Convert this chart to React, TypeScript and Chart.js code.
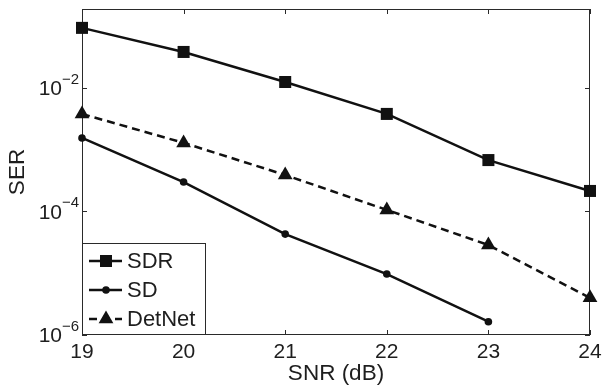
import React, { useEffect, useRef } from 'react';
import { Chart, registerables } from 'chart.js';

Chart.register(...registerables);

const snr = [19, 20, 21, 22, 23, 24];
const serSDR = [0.094, 0.0383, 0.0125, 0.0038, 6.8e-4, 2.15e-4];
const serSD = [1.55e-3, 3.0e-4, 4.3e-5, 9.7e-6, 1.64e-6];
const serDetNet = [3.8e-3, 1.29e-3, 3.9e-4, 1.06e-4, 2.86e-5, 4.0e-6];
const seriesNames = ['SDR', 'SD', 'DetNet'];
const yTickValues = [1e-6, 1e-4, 1e-2];
const yTickExponents = ['\u22126', '\u22124', '\u22122'];
const xTitle = 'SNR (dB)';
const yTitle = 'SER';

const FONT = "'Liberation Sans', Arial, Helvetica, sans-serif";
const INK = '#111';
const TEXT = '#1e1e1e';

const toPoints = (vals: number[]) => vals.map((v, i) => ({ x: snr[i], y: v }));

function drawMarker(ctx: CanvasRenderingContext2D, style: string, x: number, y: number, r: number) {
  ctx.beginPath();
  if (style === 'rect') {
    const s = r * Math.SQRT1_2;
    ctx.rect(x - s, y - s, 2 * s, 2 * s);
  } else if (style === 'triangle') {
    let rad = 0;
    ctx.moveTo(x + Math.sin(rad) * r, y - Math.cos(rad) * r);
    rad += (2 * Math.PI) / 3;
    ctx.lineTo(x + Math.sin(rad) * r, y - Math.cos(rad) * r);
    rad += (2 * Math.PI) / 3;
    ctx.lineTo(x + Math.sin(rad) * r, y - Math.cos(rad) * r);
    ctx.closePath();
  } else {
    ctx.arc(x, y, r, 0, Math.PI * 2);
  }
  ctx.fill();
}

const framePlugin = {
  id: 'matlabFrame',
  beforeDatasetsDraw(chart: any) {
    const { ctx, chartArea: a, scales } = chart;
    const xs = scales.x;
    const ys = scales.y;
    ctx.save();
    ctx.strokeStyle = '#2a2a2a';
    ctx.lineWidth = 1;
    ctx.setLineDash([]);
    ctx.strokeRect(a.left + 0.5, a.top + 0.5, a.right - a.left - 1, a.bottom - a.top - 1);
    const tl = 5;
    ctx.beginPath();
    for (const v of snr) {
      const px = Math.round(xs.getPixelForValue(v)) + 0.5;
      ctx.moveTo(px, a.bottom);
      ctx.lineTo(px, a.bottom - tl);
      ctx.moveTo(px, a.top);
      ctx.lineTo(px, a.top + tl);
    }
    for (const v of yTickValues) {
      const py = Math.round(ys.getPixelForValue(v)) + 0.5;
      ctx.moveTo(a.left, py);
      ctx.lineTo(a.left + tl, py);
      ctx.moveTo(a.right, py);
      ctx.lineTo(a.right - tl, py);
    }
    ctx.stroke();

    // y tick labels with superscript exponents
    ctx.fillStyle = TEXT;
    ctx.textBaseline = 'middle';
    yTickValues.forEach((v, i) => {
      const py = ys.getPixelForValue(v);
      ctx.font = `21px ${FONT}`;
      ctx.textAlign = 'right';
      ctx.fillText('10', a.left - 20, py + 1.5);
      ctx.font = `15px ${FONT}`;
      ctx.textAlign = 'left';
      ctx.fillText(yTickExponents[i], a.left - 20, py - 8.5);
    });
    ctx.restore();
  },
  afterDatasetsDraw(chart: any) {
    const { ctx, chartArea: a } = chart;
    ctx.save();
    const bx = a.left + 0.5;
    const by = 243.5;
    const bw = 123;
    const bh = a.bottom - 0.5 - by;
    ctx.fillStyle = '#fff';
    ctx.fillRect(bx, by, bw, bh);
    ctx.strokeStyle = '#2a2a2a';
    ctx.lineWidth = 1;
    ctx.strokeRect(bx, by, bw, bh);
    const rowY = [261, 290, 319];
    chart.data.datasets.forEach((ds: any, i: number) => {
      const y = rowY[i];
      ctx.strokeStyle = ds.borderColor;
      ctx.lineWidth = ds.borderWidth;
      ctx.setLineDash(ds.borderDash || []);
      ctx.beginPath();
      ctx.moveTo(a.left + 7, y);
      ctx.lineTo(a.left + 40, y);
      ctx.stroke();
      ctx.setLineDash([]);
      ctx.fillStyle = ds.pointBackgroundColor;
      drawMarker(ctx, ds.pointStyle, a.left + 24, y, ds.pointRadius);
      ctx.fillStyle = TEXT;
      ctx.font = `22px ${FONT}`;
      ctx.textAlign = 'left';
      ctx.textBaseline = 'middle';
      ctx.fillText(ds.label, a.left + 45, y + 1);
    });
    ctx.restore();
  },
};

export default function App() {
  const ref = useRef<HTMLCanvasElement | null>(null);
  useEffect(() => {
    if (!ref.current) return;
    Chart.defaults.font.family = FONT;
    const mk = (label: string, vals: number[], style: string, r: number, dash: number[]) => ({
      label,
      data: toPoints(vals),
      borderColor: INK,
      backgroundColor: INK,
      pointBackgroundColor: INK,
      pointBorderColor: INK,
      pointBorderWidth: 0,
      borderWidth: 2.5,
      borderDash: dash,
      pointStyle: style,
      pointRadius: r,
      pointHoverRadius: r,
      tension: 0,
      fill: false,
      clip: false as any,
    });
    const chart = new Chart(ref.current, {
      type: 'line',
      data: {
        datasets: [
          mk(seriesNames[0], serSDR, 'rect', 8.5, []),
          mk(seriesNames[1], serSD, 'circle', 3.8, []),
          mk(seriesNames[2], serDetNet, 'triangle', 8.5, [8, 5]),
        ] as any,
      },
      options: {
        animation: false,
        responsive: false,
        devicePixelRatio: 1,
        events: [],
        layout: { padding: { left: 0, right: 14, top: 9, bottom: 0 } },
        plugins: { legend: { display: false }, tooltip: { enabled: false }, title: { display: false } },
        scales: {
          x: {
            type: 'linear',
            min: 19,
            max: 24,
            grid: { display: false, drawTicks: false },
            border: { display: false },
            ticks: {
              stepSize: 1,
              padding: 5,
              color: TEXT,
              font: { size: 21, family: FONT },
              callback: (v: any) => String(v),
            },
            title: { display: true, text: xTitle, color: TEXT, font: { size: 22.5, family: FONT, lineHeight: 1 }, padding: { top: 0, bottom: 0 } },
            afterFit: (s: any) => {
              s.height = 50;
              s.paddingLeft = 0;
              s.paddingRight = 0;
            },
          },
          y: {
            type: 'logarithmic',
            min: 1e-6,
            max: 0.19,
            grid: { display: false, drawTicks: false },
            border: { display: false },
            ticks: { display: false },
            title: { display: true, text: yTitle, color: TEXT, font: { size: 22.5, family: FONT, lineHeight: 1 }, padding: { top: 6.5, bottom: 0 } },
            afterFit: (s: any) => {
              s.width = 82;
              s.paddingTop = 0;
              s.paddingBottom = 0;
            },
          },
        },
      } as any,
      plugins: [framePlugin],
    });
    return () => chart.destroy();
  }, []);
  return (
    <div style={{ position: 'fixed', left: 0, top: 0, width: 604, height: 385, background: '#fff' }}>
      <canvas ref={ref} width={604} height={385} style={{ display: 'block' }} />
    </div>
  );
}
